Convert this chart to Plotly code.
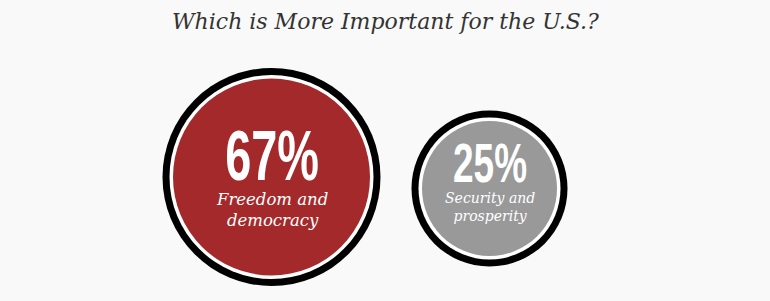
import plotly.graph_objects as go

# ---- data ----
categories = ["Freedom and democracy", "Security and prosperity"]
values = [67, 25]
labels = ["Freedom and<br>democracy", "Security and<br>prosperity"]
title_text = "Which is More Important for the U.S.?"

# ---- styling / layout ----
fill_colors = ["#a3292b", "#999999"]
outer_size = [218, 156]
white_size = [204, 142]
inner_size = [197, 135]
center_y = [177, 188.5]
pct_font = [71, 56]
pct_y = [155, 162.5]
lbl_font = [16.5, 14]
lbl_y = [210, 207]
BG = "#f9f9f9"
PCT_FAMILY = "Liberation Sans, Arial, sans-serif"

fig = go.Figure()
for sizes, col in [(outer_size, "#000000"), (white_size, "#ffffff"), (inner_size, fill_colors)]:
    fig.add_trace(go.Scatter(x=categories, y=center_y, mode="markers",
                             marker=dict(size=sizes, color=col, opacity=1, line=dict(width=0)),
                             hoverinfo="skip"))

for i, c in enumerate(categories):
    fig.add_annotation(x=c, y=pct_y[i], xref="x", yref="y", text=f"<b>{values[i]}%</b>",
                       showarrow=False, xanchor="center", yanchor="middle",
                       font=dict(family=PCT_FAMILY, size=pct_font[i], color="#ffffff"))
    fig.add_annotation(x=c, y=lbl_y[i], xref="x", yref="y", text=labels[i],
                       showarrow=False, xanchor="center", yanchor="middle",
                       font=dict(family="DejaVu Serif", size=lbl_font[i],
                                 color="#ffffff", style="italic"))

fig.add_annotation(x=0.5, y=1 - 21 / 301, xref="paper", yref="paper", text=title_text,
                   showarrow=False, xanchor="center", yanchor="middle",
                   font=dict(family="DejaVu Serif", size=22, color="#333333", style="italic"))

fig.update_layout(
    width=770, height=301, margin=dict(l=0, r=0, t=0, b=0),
    paper_bgcolor=BG, plot_bgcolor=BG, showlegend=False,
    xaxis=dict(type="category", range=[-1.2454, 2.2867], visible=False, fixedrange=True),
    yaxis=dict(range=[301, 0], visible=False, fixedrange=True),
)

# condense the big percentage numbers horizontally (tall condensed display type)
post = """
var gd = document.getElementById('{plot_id}');
function squeeze(){
  document.querySelectorAll('.annotation-text').forEach(function(t){
    if (t.textContent.trim().slice(-1) === '%') {
      t.style.transformBox = 'fill-box';
      t.style.transformOrigin = 'center';
      t.style.transform = 'scaleX(0.66)';
    }
  });
}
squeeze();
setTimeout(squeeze, 0);
if (gd && gd.on) { gd.on('plotly_afterplot', squeeze); }
"""

fig.write_html("out.html", config={"displayModeBar": False}, post_script=post)
